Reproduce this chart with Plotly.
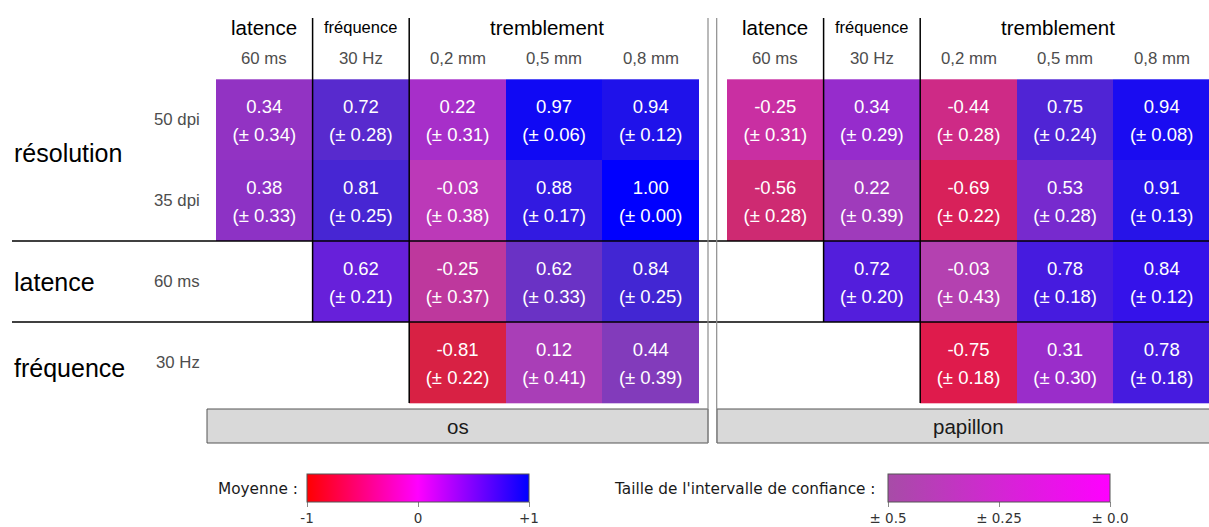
import plotly.graph_objects as go

# ---------------- data ----------------
panels = ["os", "papillon"]
row_groups = ["résolution", "latence", "fréquence"]
row_group_rows = [0.41, 2, 3.07]          # row position of each group label
row_labels = ["50 dpi", "35 dpi", "60 ms", "30 Hz"]
col_groups = ["latence", "fréquence", "tremblement"]
col_group_cols = [0, 1, 2.93]
col_group_sizes = [20.5, 16.5, 20.5]
col_labels = ["60 ms", "30 Hz", "0,2 mm", "0,5 mm", "0,8 mm"]

os_mean = [
    [0.34, 0.72, 0.22, 0.97, 0.94],
    [0.38, 0.81, -0.03, 0.88, 1.00],
    [None, 0.62, -0.25, 0.62, 0.84],
    [None, None, -0.81, 0.12, 0.44],
]
os_ci = [
    [0.34, 0.28, 0.31, 0.06, 0.12],
    [0.33, 0.25, 0.38, 0.17, 0.00],
    [None, 0.21, 0.37, 0.33, 0.25],
    [None, None, 0.22, 0.41, 0.39],
]
papillon_mean = [
    [-0.25, 0.34, -0.44, 0.75, 0.94],
    [-0.56, 0.22, -0.69, 0.53, 0.91],
    [None, 0.72, -0.03, 0.78, 0.84],
    [None, None, -0.75, 0.31, 0.78],
]
papillon_ci = [
    [0.31, 0.29, 0.28, 0.24, 0.08],
    [0.28, 0.39, 0.22, 0.28, 0.13],
    [None, 0.20, 0.43, 0.18, 0.12],
    [None, None, 0.18, 0.30, 0.18],
]
mean_ticks = [-1, 0, 1]
mean_ticktext = ["-1", "0", "+1"]
ci_ticks = [-0.5, -0.25, 0]
ci_ticktext = ["± 0.5", "± 0.25", "± 0.0"]

# ---------------- colours ----------------
RED, MAG, BLUE, GREY = (255, 0, 0), (255, 0, 255), (0, 0, 255), (118, 118, 118)
CI_MAX, DESAT_MAX = 0.5, 0.64


def lerp(a, b, t):
    return tuple(a[i] + (b[i] - a[i]) * t for i in range(3))


def rgb(c):
    return "rgb(%d,%d,%d)" % tuple(round(v) for v in c)


def cell_color(m, ci):
    base = lerp(RED, MAG, m + 1) if m < 0 else lerp(MAG, BLUE, m)
    return lerp(base, GREY, DESAT_MAX * ci / CI_MAX)


# ---------------- geometry (pixels) ----------------
W, H = 1209, 527
CELL_L = [216, 727]
CW = 96.6
CELL_T = 79.3
RH = 80.9
SPLIT = 712
FONT = "Liberation Sans"
LEG_FONT = "DejaVu Sans"


def xd(px, p):
    return -0.5 + (px - CELL_L[p]) / CW


def yd(py):
    return -0.5 + (py - CELL_T) / RH


xaxes = ["x", "x2"]
fig = go.Figure()

means = [os_mean, papillon_mean]
cis = [os_ci, papillon_ci]
for p in range(2):
    mean, ci = means[p], cis[p]
    colors, z = [], []
    for r in range(len(mean)):
        zr = []
        for c in range(len(mean[r])):
            if mean[r][c] is None:
                zr.append(None)
            else:
                zr.append(len(colors))
                colors.append(rgb(cell_color(mean[r][c], ci[r][c])))
        z.append(zr)
    n = len(colors)
    cscale = [[i / (n - 1), col] for i, col in enumerate(colors)]
    fig.add_trace(go.Heatmap(
        z=z, x=list(range(5)), y=list(range(4)), zmin=0, zmax=n - 1,
        colorscale=cscale, showscale=False, hoverinfo="skip",
        xaxis=xaxes[p], yaxis="y"))
    tx, ty1, ty2, t1, t2 = [], [], [], [], []
    for r in range(len(mean)):
        for c in range(len(mean[r])):
            if mean[r][c] is None:
                continue
            tx.append(c)
            ty1.append(r - 0.136)
            ty2.append(r + 0.21)
            t1.append("%.2f" % mean[r][c])
            t2.append("(± %.2f)" % ci[r][c])
    for yy, tt in ((ty1, t1), (ty2, t2)):
        fig.add_trace(go.Scatter(
            x=tx, y=yy, text=tt, mode="text", hoverinfo="skip",
            textfont=dict(family=FONT, size=18.5, color="white"),
            showlegend=False, xaxis=xaxes[p], yaxis="y"))

# colour-bar carrier traces
fig.add_trace(go.Scatter(
    x=[0, 0], y=[0, 0], mode="markers", hoverinfo="skip", showlegend=False,
    marker=dict(size=1, opacity=0, color=[-1, 1], cmin=-1, cmax=1,
                colorscale=[[0, rgb(RED)], [0.5, rgb(MAG)], [1, rgb(BLUE)]],
                showscale=True,
                colorbar=dict(orientation="h", x=418 / W, xanchor="center",
                              y=1 - 474 / H, yanchor="top", len=222,
                              lenmode="pixels", thickness=28, xpad=0, ypad=0,
                              tickvals=mean_ticks, ticktext=mean_ticktext,
                              ticks="outside", ticklen=5, tickcolor="#888",
                              outlinewidth=1, outlinecolor="#555",
                              tickfont=dict(family=LEG_FONT, size=13.5, color="#333")))))
ci_lo = rgb(lerp(MAG, GREY, DESAT_MAX))
fig.add_trace(go.Scatter(
    x=[0, 0], y=[0, 0], mode="markers", hoverinfo="skip", showlegend=False,
    marker=dict(size=1, opacity=0, color=[-0.5, 0], cmin=-0.5, cmax=0,
                colorscale=[[0, ci_lo], [1, rgb(MAG)]],
                showscale=True,
                colorbar=dict(orientation="h", x=999 / W, xanchor="center",
                              y=1 - 474 / H, yanchor="top", len=222,
                              lenmode="pixels", thickness=28, xpad=0, ypad=0,
                              tickvals=ci_ticks, ticktext=ci_ticktext,
                              ticks="outside", ticklen=5, tickcolor="#888",
                              outlinewidth=1, outlinecolor="#555",
                              tickfont=dict(family=LEG_FONT, size=13.5, color="#333")))))

shapes, ann = [], []
TOP = yd(18)
for p in range(2):
    xr, yr = xaxes[p], "y"
    # black staircase lines
    shapes.append(dict(type="line", xref=xr, yref=yr, x0=0.5, x1=0.5, y0=TOP, y1=2.5,
                       line=dict(color="black", width=1.5)))
    shapes.append(dict(type="line", xref=xr, yref=yr, x0=1.5, x1=1.5, y0=TOP, y1=3.5,
                       line=dict(color="black", width=1.5)))
    x_left = xd(12, 0) if p == 0 else xd(SPLIT, 1)
    x_right = xd(SPLIT, 0) if p == 0 else xd(W, 1)
    for yy in (1.5, 2.5):
        shapes.append(dict(type="line", xref=xr, yref=yr, x0=x_left, x1=x_right, y0=yy, y1=yy,
                           line=dict(color="black", width=1.5)))
    # strip
    sx0 = xd(207, 0) if p == 0 else xd(717, 1)
    sx1 = 4 - sx0
    shapes.append(dict(type="rect", xref=xr, yref=yr, x0=sx0, x1=sx1, y0=yd(409), y1=yd(443),
                       fillcolor="#d9d9d9", line=dict(color="#555", width=1), layer="below"))
    ann.append(dict(xref=xr, yref=yr, x=2, y=yd(426), text=panels[p], showarrow=False,
                    font=dict(family=FONT, size=20.5, color="#1a1a1a")))
    # grey panel border
    gx = xd(708, 0) if p == 0 else xd(716.7, 1)
    shapes.append(dict(type="line", xref=xr, yref=yr, x0=gx, x1=gx, y0=TOP, y1=yd(443),
                       line=dict(color="#8c8c8c", width=1.2)))
    # column headers
    for g, cx, fs in zip(col_groups, col_group_cols, col_group_sizes):
        ann.append(dict(xref=xr, yref=yr, x=cx, y=yd(27), text=g, showarrow=False,
                        font=dict(family=FONT, size=fs, color="black")))
    for c, lab in enumerate(col_labels):
        ann.append(dict(xref=xr, yref=yr, x=c, y=yd(58), text=lab, showarrow=False,
                        font=dict(family=FONT, size=16.8, color="#4d4d4d")))

# row labels (left of the first panel)
for g, ry in zip(row_groups, row_group_rows):
    ann.append(dict(xref="x", yref="y", x=xd(12, 0), y=ry, text=g, showarrow=False,
                    xanchor="left", font=dict(family=FONT, size=25, color="black")))
for r, lab in enumerate(row_labels):
    ann.append(dict(xref="x", yref="y", x=xd(202, 0), y=r, text=lab, showarrow=False,
                    xanchor="right", font=dict(family=FONT, size=16.8, color="#4d4d4d")))

# legend titles
ann.append(dict(xref="paper", yref="paper", x=300 / W, y=1 - 489 / H, text="Moyenne :",
                showarrow=False, xanchor="right", yanchor="middle",
                font=dict(family=LEG_FONT, size=15.3, color="#1a1a1a")))
ann.append(dict(xref="paper", yref="paper", x=877 / W, y=1 - 489 / H,
                text="Taille de l'intervalle de confiance :", showarrow=False,
                xanchor="right", yanchor="middle",
                font=dict(family=LEG_FONT, size=15.3, color="#1a1a1a")))

ax_common = dict(visible=False, showgrid=False, zeroline=False, fixedrange=True)
fig.update_layout(
    width=W, height=H, margin=dict(l=0, r=0, t=0, b=0),
    paper_bgcolor="white", plot_bgcolor="white", showlegend=False,
    xaxis=dict(domain=[0, SPLIT / W], range=[xd(0, 0), xd(SPLIT, 0)], anchor="y", **ax_common),
    xaxis2=dict(domain=[SPLIT / W, 1], range=[xd(SPLIT, 1), xd(W, 1)], anchor="y", **ax_common),
    yaxis=dict(domain=[0, 1], range=[yd(H), yd(0)], anchor="x", **ax_common),
    shapes=shapes, annotations=ann,
)
fig.write_html("out.html", config={"displayModeBar": False},
               post_script="document.body.style.margin='0';document.body.style.overflow='hidden';")
